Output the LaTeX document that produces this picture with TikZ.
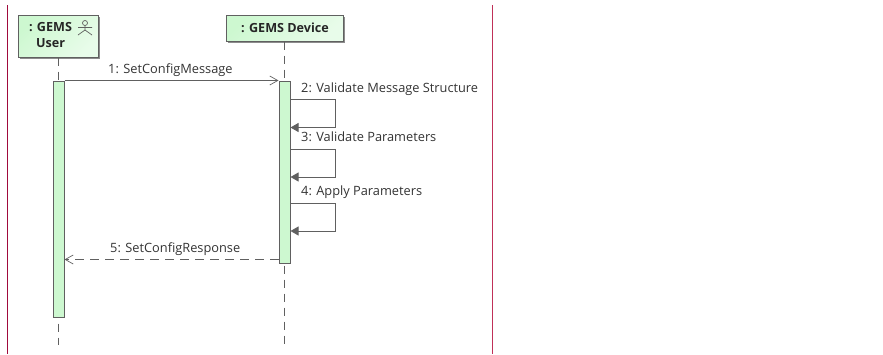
\documentclass[tikz,border=0pt]{standalone}
\usepackage{fontspec}
\setmainfont{Open Sans}
\usepackage{xcolor}
\usetikzlibrary{arrows.meta,calc,positioning,shadows}
\definecolor{umlgreen}{HTML}{CDF8D0}
\definecolor{umlline}{HTML}{606060}
\definecolor{framered}{HTML}{A00A3C}
\definecolor{framepink}{HTML}{C03058}
\tikzset{%
	lifebox/.style = {draw=umlline, line width=1pt, left color=umlgreen, right color=umlgreen!45!white, shading angle=45, drop shadow={shadow xshift=1.5pt, shadow yshift=-1.5pt, fill=black!45, opacity=1}, inner sep=0pt},
	lifetext/.style = {font=\fontsize{12.6}{16.5}\selectfont\bfseries, align=center, inner sep=0pt, text=black!85},
	activebar/.style = {draw=umlline, line width=1pt, fill=umlgreen, minimum width=11pt, inner sep=0pt},
	lifeline/.style = {draw=umlline, line width=0.8pt, dash pattern=on 8pt off 6pt},
	msg/.style = {draw=umlline, line width=0.9pt, -{Straight Barb[length=8pt,width=9pt,line width=0.7pt]}},
	reply/.style = {msg, dash pattern=on 9pt off 6pt},
	selfmsg/.style = {draw=umlline, line width=0.9pt, -{Triangle[length=8pt,width=9pt]}},
	msglabel/.style = {text=black!80, font=\fontsize{12.8}{14}\selectfont, inner sep=0pt, anchor=base west},
}
\begin{document}
\begin{tikzpicture}[x=1pt,y=-1pt]
	\useasboundingbox (0,0) rectangle (883,354);
	% frame
	\coordinate (lefttop) at (7.5,5);
	\coordinate (leftbot) at (7.5,354);
	\coordinate (righttop) at (492.9,5);
	\coordinate (rightbot) at (492.9,354);
	\draw[framered, line width=1pt] (lefttop) -- (leftbot);
	\draw[framepink, line width=1pt] (righttop) -- (rightbot);
	
	% lifelines
	\node[lifebox, minimum width=80pt, minimum height=42pt] (user) at (58.5,36) {};
	\node[lifebox, minimum width=117pt, minimum height=26pt] (device) at (284.5,28) {};
	\node[lifetext] (usertext) at (50.5,35) {: GEMS\\User};
	\node[lifetext] (devicetext) at (285,27.5) {: GEMS Device};
	\coordinate (userend) at (58.5,345);
	\coordinate (deviceend) at (284.5,345);
	\draw[lifeline] (user.south) -- (userend);
	\draw[lifeline] (device.south) -- (deviceend);
	
	% actor icon
	\draw[umlline, line width=0.7pt] (85,23) circle (2.5);
	\draw[umlline, line width=0.7pt] (85,25.5) -- (85,30) (78,27.5) -- (92,27.5) (78,35) -- (85,30) -- (92,35);
	
	% activations
	\node[activebar, minimum height=236pt] (userbar) at (58.5,199) {};
	\node[activebar, minimum height=182pt] (devbar) at (284.5,172) {};
	
	% messages
	\draw[msg] (userbar.north east) -- (devbar.north west);
	\node[msglabel] (msgone) at (108,73.3) {1: SetConfigMessage};
	
	\foreach \name/\ya/\yb in {two/99/127.5,three/149/177,four/203/231}{
		\coordinate (\name a) at ($(devbar.east |- 0,\ya)$);
		\coordinate (\name b) at (335,\ya);
		\coordinate (\name c) at (335,\yb);
		\coordinate (\name d) at ($(devbar.east |- 0,\yb)$);
		\draw[selfmsg] (\name a) -- (\name b) -- (\name c) -- (\name d);
	}
	\node[msglabel] (msgtwo) at (301,92) {2: Validate Message Structure};
	\node[msglabel] (msgthree) at (301,141.7) {3: Validate Parameters};
	\node[msglabel] (msgfour) at (301,195) {4: Apply Parameters};
	
	\coordinate (replya) at ($(devbar.west |- 0,259.5)$);
	\coordinate (replyb) at ($(userbar.east |- 0,259.5)$);
	\draw[reply] (replya) -- (replyb);
	\node[msglabel] (msgfive) at (110,252.3) {5: SetConfigResponse};
\end{tikzpicture}
\end{document}
